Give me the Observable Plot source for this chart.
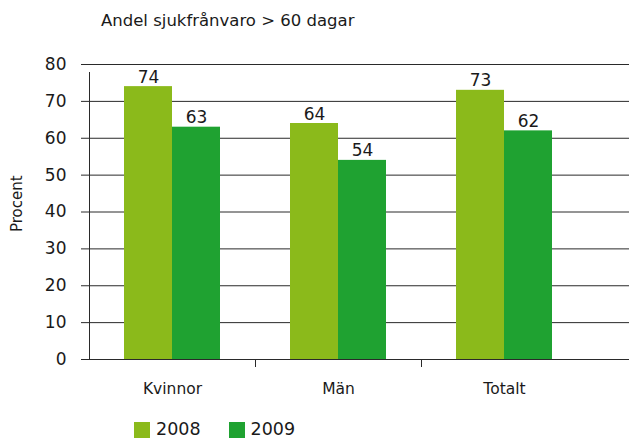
<!DOCTYPE html>
<html>
<head>
<meta charset="utf-8">
<script src="https://cdn.jsdelivr.net/npm/d3@7"></script>
<script src="https://cdn.jsdelivr.net/npm/@observablehq/plot@0.6"></script>
<style>
  body { margin: 0; background: #fff; }
  #wrap { position: relative; width: 629px; height: 441px; overflow: hidden; font-family: "DejaVu Sans", sans-serif; color: #1a1a1a; }
  #title { position: absolute; left: 101px; top: 13px; font-size: 16.5px; line-height: 1; white-space: nowrap; }
  #chart { position: absolute; left: 0; top: 0; }
  #legend { position: absolute; left: 134px; top: 421px; display: flex; align-items: center; font-size: 17.5px; line-height: 1; }
  #legend .item { display: flex; align-items: center; margin-right: 28px; }
  #legend .sw { width: 16px; height: 16px; margin-right: 6px; }
</style>
</head>
<body>
<div id="wrap">
  <div id="chart"></div>
  <div id="title">Andel sjukfrånvaro &gt; 60 dagar</div>
  <div id="legend"></div>
</div>
<script>
const categories = ["Kvinnor", "Män", "Totalt"];
const years = ["2008", "2009"];
const values2008 = [74, 64, 73];
const values2009 = [63, 54, 62];
const yTicks = [0, 10, 20, 30, 40, 50, 60, 70, 80];
const colors = ["#8bba1b", "#1fa231"];
const yLabel = "Procent";

const data = categories.flatMap((c, i) => [
  {cat: c, year: years[0], value: values2008[i]},
  {cat: c, year: years[1], value: values2009[i]}
]);
const d08 = data.filter(d => d.year === years[0]);
const d09 = data.filter(d => d.year === years[1]);

const ink = "#1a1a1a";
const font = "DejaVu Sans";

const chart = Plot.plot({
  width: 629,
  height: 441,
  marginTop: 64,
  marginBottom: 82,
  marginLeft: 89,
  marginRight: 0,
  style: {fontFamily: font, color: ink, background: "transparent", overflow: "visible"},
  x: {domain: categories, range: [89, 587], paddingInner: 0.4217, paddingOuter: 0.21085, axis: null},
  y: {domain: [0, 80], axis: null},
  color: {domain: years, range: colors},
  marks: [
    Plot.ruleY(yTicks, {stroke: "#2a2a2a", strokeWidth: 1}),
    Plot.barY(d08, {x: "cat", y: "value", fill: "year", insetRight: 48}),
    Plot.barY(d09, {x: "cat", y: "value", fill: "year", insetLeft: 48}),
    Plot.text(d08, {x: "cat", y: "value", text: d => String(d.value), dx: -24, dy: -4, lineAnchor: "bottom", fontSize: 17, fill: ink}),
    Plot.text(d09, {x: "cat", y: "value", text: d => String(d.value), dx: 24, dy: -4, lineAnchor: "bottom", fontSize: 17, fill: ink}),
    Plot.ruleX([categories[0]], {x: d => d, dx: -83, y1: 0, y2: 80, insetBottom: -8, stroke: "#2a2a2a"}),
    Plot.ruleX(categories.slice(1), {x: d => d, dx: -83, y1: 0, y2: 0, insetBottom: -8, stroke: "#2a2a2a"}),
    Plot.axisY(yTicks, {tickSize: 8, tickPadding: 15, fontSize: 17, label: null, stroke: "#2a2a2a", fill: ink}),
    Plot.axisX(categories, {tickSize: 0, tickPadding: 23, fontSize: 15.5, label: null, fill: ink}),
    Plot.text([yLabel], {frameAnchor: "left", rotate: -90, dx: -72, dy: 20, fontSize: 15, fill: ink, text: d => d})
  ]
});
document.getElementById("chart").appendChild(chart);

const legend = document.getElementById("legend");
years.forEach((y, i) => {
  const item = document.createElement("div");
  item.className = "item";
  const sw = document.createElement("span");
  sw.className = "sw";
  sw.style.background = colors[i];
  const t = document.createElement("span");
  t.textContent = y;
  item.appendChild(sw);
  item.appendChild(t);
  legend.appendChild(item);
});
</script>
</body>
</html>
